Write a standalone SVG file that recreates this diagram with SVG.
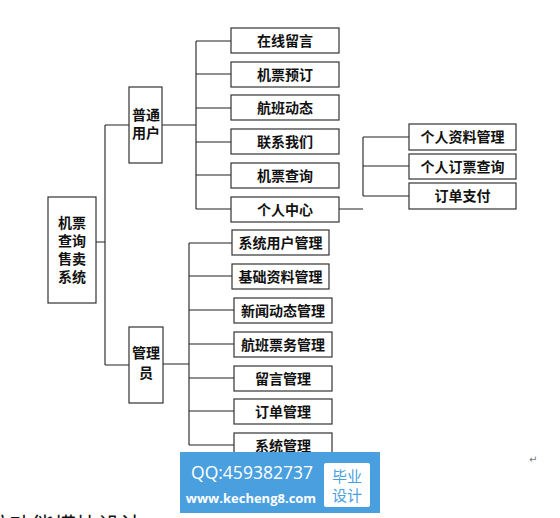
<svg xmlns="http://www.w3.org/2000/svg" width="560" height="518" viewBox="0 0 560 518">
<style>
.box{fill:#fff;stroke:#333;stroke-width:1.2}
.t{font-family:"Noto Sans CJK SC","Liberation Serif",serif;font-size:14px;font-weight:bold;fill:#111;text-anchor:middle}
.ln{fill:none;stroke:#222;stroke-width:1.1}
.wm{font-family:"Open Sans","DejaVu Sans",sans-serif;fill:#fff}
</style>
<rect width="560" height="518" fill="#fff"/>
<g id="connectors" class="ln">
<path d="M96 242H105M105 125V365M105 125H129M105 365H129"/>
<path d="M162 125H196M196 41V209M196 41H231M196 74H231M196 108H231M196 142H231M196 175H231M196 209H231"/>
<path d="M339 209H363M363 137V196M363 137H409M363 166H409M363 196H409"/>
<path d="M163 364H189M189 243V445M189 243H232M189 276H232M189 310H234M189 344H234M189 378H234M189 411H234M189 445H234"/>
</g>
<g id="root"><rect class="box" x="48" y="197" width="48" height="106"/>
<text class="t" x="72" y="228">机票</text><text class="t" x="72" y="246">查询</text><text class="t" x="72" y="264">售卖</text><text class="t" x="72" y="282">系统</text></g>
<g id="user"><rect class="box" x="129" y="87" width="33" height="76"/>
<text class="t" x="146" y="120">普通</text><text class="t" x="146" y="138">用户</text></g>
<g id="admin"><rect class="box" x="129" y="327" width="34" height="76"/>
<text class="t" x="146" y="358">管理</text><text class="t" x="146" y="378">员</text></g>
<g id="u1"><rect class="box" x="231" y="28" width="108" height="25"/><text class="t" x="285" y="45.5">在线留言</text></g>
<g id="u2"><rect class="box" x="231" y="62" width="108" height="25"/><text class="t" x="285" y="79.5">机票预订</text></g>
<g id="u3"><rect class="box" x="231" y="95" width="108" height="25"/><text class="t" x="285" y="112.5">航班动态</text></g>
<g id="u4"><rect class="box" x="231" y="129" width="108" height="25"/><text class="t" x="285" y="146.5">联系我们</text></g>
<g id="u5"><rect class="box" x="231" y="163" width="108" height="25"/><text class="t" x="285" y="180.5">机票查询</text></g>
<g id="u6"><rect class="box" x="231" y="197" width="108" height="25"/><text class="t" x="285" y="214.5">个人中心</text></g>
<g id="p1"><rect class="box" x="409" y="124" width="107" height="26"/><text class="t" x="462.5" y="142">个人资料管理</text></g>
<g id="p2"><rect class="box" x="409" y="154" width="107" height="25"/><text class="t" x="462.5" y="171.5">个人订票查询</text></g>
<g id="p3"><rect class="box" x="409" y="183" width="107" height="26"/><text class="t" x="462.5" y="201">订单支付</text></g>
<g id="a1"><rect class="box" x="232" y="230" width="97" height="25"/><text class="t" x="280.5" y="247.5">系统用户管理</text></g>
<g id="a2"><rect class="box" x="232" y="264" width="97" height="25"/><text class="t" x="280.5" y="281.5">基础资料管理</text></g>
<g id="a3"><rect class="box" x="234" y="298" width="98" height="25"/><text class="t" x="283" y="315.5">新闻动态管理</text></g>
<g id="a4"><rect class="box" x="234" y="332" width="98" height="25"/><text class="t" x="283" y="349.5">航班票务管理</text></g>
<g id="a5"><rect class="box" x="234" y="366" width="98" height="25"/><text class="t" x="283" y="383.5">留言管理</text></g>
<g id="a6"><rect class="box" x="234" y="399" width="98" height="25"/><text class="t" x="283" y="416.5">订单管理</text></g>
<g id="a7"><rect class="box" x="234" y="433" width="98" height="25"/><text class="t" x="283" y="450.5">系统管理</text></g>
<g id="watermark">
<rect x="180" y="452" width="200" height="61" fill="#4a9fdf"/>
<rect x="324" y="463" width="46" height="44" rx="2" fill="#fff"/>
<text class="wm" x="252" y="479" font-size="17.5" text-anchor="middle">QQ:459382737</text>
<text class="wm" x="251" y="503" font-size="13" font-weight="bold" text-anchor="middle">www.kecheng8.com</text>
<text x="347" y="482" font-family="Noto Sans CJK SC,sans-serif" font-size="15" fill="#4a9fdf" text-anchor="middle">毕业</text>
<text x="347" y="501" font-family="Noto Sans CJK SC,sans-serif" font-size="15" fill="#4a9fdf" text-anchor="middle">设计</text>
</g>
<text x="529" y="463" font-family="DejaVu Sans,sans-serif" font-size="10" fill="#777">↵</text>
<text x="-12" y="533" font-family="Noto Sans CJK SC,sans-serif" font-size="22" fill="#111">统功能模块设计</text>
</svg>
